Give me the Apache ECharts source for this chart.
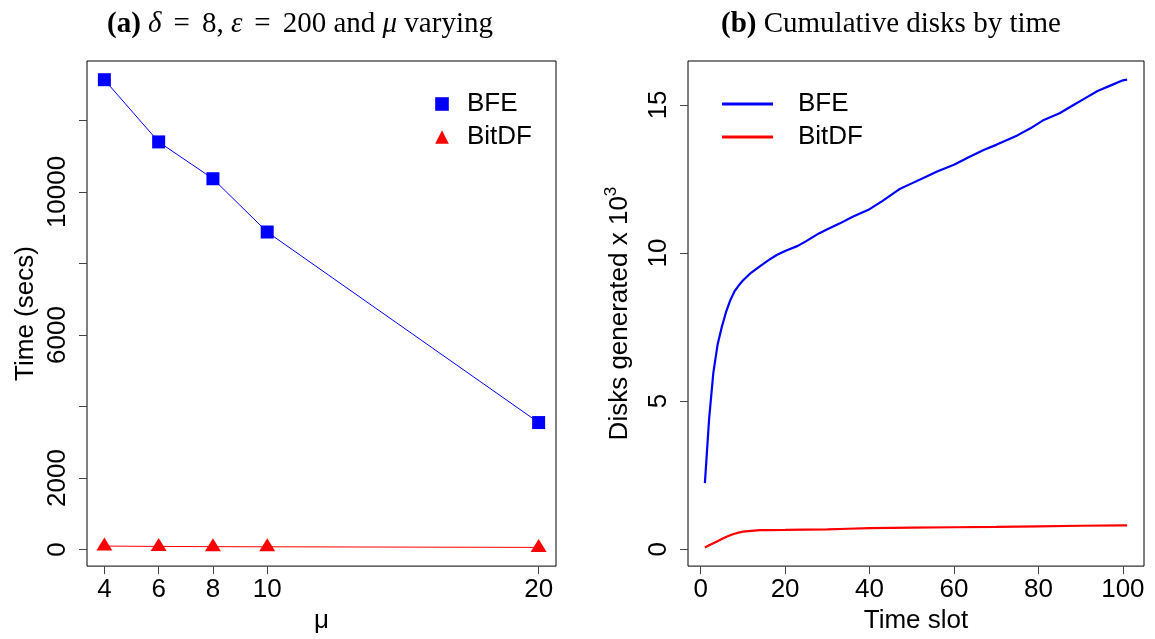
<!DOCTYPE html>
<html>
<head>
<meta charset="utf-8">
<script src="https://cdn.jsdelivr.net/npm/echarts@6/dist/echarts.min.js"></script>
<style>
  html, body { margin: 0; padding: 0; background: #fff; }
  #chart { width: 1155px; height: 639px; }
</style>
</head>
<body>
<div id="chart"></div>
<script>
// Panel (a): run time against mu
const muValues = [4, 6, 8, 10, 20];
const bfeTime = [13140, 11400, 10370, 8880, 3550];
const bitdfTime = [95, 85, 78, 75, 58];
const muTicks = [4, 6, 8, 10, 20];
const timeTicks = [0, 2000, 4000, 6000, 8000, 10000, 12000];
const timeTickLabels = [0, 2000, 6000, 10000];

// Panel (b): cumulative disks (thousands) per time slot
const bfeSlots = [1, 2, 3, 4, 5, 6, 7, 8, 9, 10, 12, 14, 16, 18, 20, 23, 25, 28, 30, 33, 36, 40, 43, 47, 50, 53, 56, 60, 63, 67, 70, 75, 78, 81, 85, 88, 91, 94, 97, 100, 101];
const bfeDisks = [2.23, 4.4, 5.95, 6.9, 7.5, 8.0, 8.4, 8.7, 8.9, 9.07, 9.34, 9.55, 9.75, 9.93, 10.07, 10.24, 10.4, 10.66, 10.8, 11.0, 11.22, 11.48, 11.75, 12.15, 12.35, 12.55, 12.75, 12.98, 13.2, 13.48, 13.65, 13.97, 14.2, 14.47, 14.72, 14.97, 15.22, 15.47, 15.65, 15.83, 15.85];
const bitdfSlots = [1, 2, 3, 4, 5, 6, 7, 8, 9, 10, 12, 14, 16, 20, 25, 30, 35, 40, 45, 50, 60, 70, 80, 90, 100, 101];
const bitdfDisks = [0.06, 0.13, 0.2, 0.27, 0.34, 0.41, 0.47, 0.52, 0.56, 0.59, 0.62, 0.64, 0.645, 0.65, 0.66, 0.67, 0.69, 0.71, 0.72, 0.73, 0.74, 0.75, 0.77, 0.79, 0.8, 0.8];
const slotTicks = [0, 20, 40, 60, 80, 100];
const diskTicks = [0, 5, 10, 15];

const BLUE = '#0000ff';
const RED = '#ff0000';
const SANS = '"Liberation Sans", Arial, Helvetica, sans-serif';
const SERIF = '"Liberation Serif", "Times New Roman", serif';
const FS = 26;

// axis range padded by 4% of the data span on each side
function padRange(arrays) {
  const all = [].concat.apply([], arrays);
  const lo = Math.min.apply(null, all), hi = Math.max.apply(null, all);
  const d = (hi - lo) * 0.04;
  return [lo - d, hi + d];
}
const muRange = padRange([muValues]);
const timeRange = padRange([bfeTime, bitdfTime]);
const slotRange = padRange([bfeSlots, bitdfSlots]);
const diskRange = padRange([bfeDisks, bitdfDisks]);

function pairs(xs, ys) { return xs.map((x, i) => [x, ys[i]]); }
const plain = v => String(v);

function labelStyle(values, extra) {
  return Object.assign({
    customValues: values, formatter: plain,
    color: '#000', fontSize: FS, fontFamily: SANS
  }, extra);
}

function axisCommon(range, ticks, extra) {
  return Object.assign({
    type: 'value',
    min: range[0],
    max: range[1],
    axisLine: { show: false, onZero: false },
    splitLine: { show: false },
    axisTick: { show: true, length: 8, customValues: ticks, lineStyle: { color: '#444', width: 1 } },
    nameLocation: 'middle',
    nameTextStyle: { color: '#000', fontSize: FS, fontFamily: SANS }
  }, extra);
}

const serifTitle = {
  fontFamily: SERIF, fontSize: 29, fontWeight: 'normal', color: '#000'
};

const chart = echarts.init(document.getElementById('chart'), null, { renderer: 'canvas' });

chart.setOption({
  animation: false,
  backgroundColor: '#fff',
  textStyle: { fontFamily: SANS },
  title: [
    {
      text: '{b|(a)} {i|δ}{e|=}8, {i|ε}{e|=}200 and {i|μ} varying',
      left: 102, top: 5,
      textStyle: Object.assign({}, serifTitle, {
        rich: {
          b: Object.assign({}, serifTitle, { fontWeight: 'bold' }),
          i: Object.assign({}, serifTitle, { fontStyle: 'italic' }),
          e: Object.assign({}, serifTitle, { padding: [0, 12, 0, 12] })
        }
      })
    },
    {
      text: '{b|(b)} Cumulative disks by time',
      left: 716, top: 5,
      textStyle: Object.assign({}, serifTitle, {
        rich: { b: Object.assign({}, serifTitle, { fontWeight: 'bold' }) }
      })
    }
  ],
  grid: [
    { left: 87, right: 599, top: 61, bottom: 67, show: true, borderColor: '#000', borderWidth: 1, backgroundColor: 'transparent' },
    { left: 688, right: 11, top: 61, bottom: 67, show: true, borderColor: '#000', borderWidth: 1, backgroundColor: 'transparent' }
  ],
  xAxis: [
    axisCommon(muRange, muTicks, {
      gridIndex: 0, name: 'μ', nameGap: 40,
      axisLabel: labelStyle(muTicks, { margin: 11 })
    }),
    axisCommon(slotRange, slotTicks, {
      gridIndex: 1, name: 'Time slot', nameGap: 41,
      axisLabel: labelStyle(slotTicks, { margin: 11 })
    })
  ],
  yAxis: [
    axisCommon(timeRange, timeTicks, {
      gridIndex: 0, name: 'Time (secs)', nameGap: 48, nameRotate: 90,
      axisLabel: labelStyle(timeTickLabels, { rotate: 90, margin: 16 })
    }),
    axisCommon(diskRange, diskTicks, {
      gridIndex: 1, name: '{n|Disks generated x 10}{s|3}', nameGap: 51, nameRotate: 90,
      nameTextStyle: {
        color: '#000', fontSize: FS, fontFamily: SANS,
        rich: {
          n: { fontSize: FS, fontFamily: SANS, color: '#000', lineHeight: 34 },
          s: { fontSize: 17, fontFamily: SANS, color: '#000', verticalAlign: 'top', lineHeight: 20 }
        }
      },
      axisLabel: labelStyle(diskTicks, { rotate: 90, margin: 16 })
    })
  ],
  legend: [
    {
      data: ['BFE', 'BitDF'],
      orient: 'vertical',
      left: 421, top: 91,
      padding: 0,
      itemGap: 7,
      itemWidth: 40,
      itemHeight: 17,
      selectedMode: false,
      lineStyle: { opacity: 0 },
      textStyle: { fontSize: FS, fontFamily: SANS, color: '#000' }
    },
    {
      data: [{ name: 'BFE', icon: 'rect' }, { name: 'BitDF', icon: 'rect' }],
      orient: 'vertical',
      left: 722, top: 91,
      padding: 0,
      itemGap: 7,
      itemWidth: 51,
      itemHeight: 3,
      selectedMode: false,
      textStyle: { fontSize: FS, fontFamily: SANS, color: '#000', padding: [0, 0, 0, 20] }
    }
  ],
  series: [
    {
      name: 'BFE', type: 'line', xAxisIndex: 0, yAxisIndex: 0,
      data: pairs(muValues, bfeTime),
      symbol: 'rect', symbolSize: 13,
      itemStyle: { color: BLUE },
      lineStyle: { color: BLUE, width: 1 }
    },
    {
      name: 'BitDF', type: 'line', xAxisIndex: 0, yAxisIndex: 0,
      data: pairs(muValues, bitdfTime),
      symbol: 'triangle', symbolSize: [16, 13], symbolOffset: [0, -2],
      itemStyle: { color: RED },
      lineStyle: { color: RED, width: 1 }
    },
    {
      name: 'BFE', type: 'line', xAxisIndex: 1, yAxisIndex: 1,
      data: pairs(bfeSlots, bfeDisks),
      symbol: 'none',
      itemStyle: { color: BLUE },
      lineStyle: { color: BLUE, width: 2.2 }
    },
    {
      name: 'BitDF', type: 'line', xAxisIndex: 1, yAxisIndex: 1,
      data: pairs(bitdfSlots, bitdfDisks),
      symbol: 'none',
      itemStyle: { color: RED },
      lineStyle: { color: RED, width: 2.2 }
    }
  ]
});
</script>
</body>
</html>
